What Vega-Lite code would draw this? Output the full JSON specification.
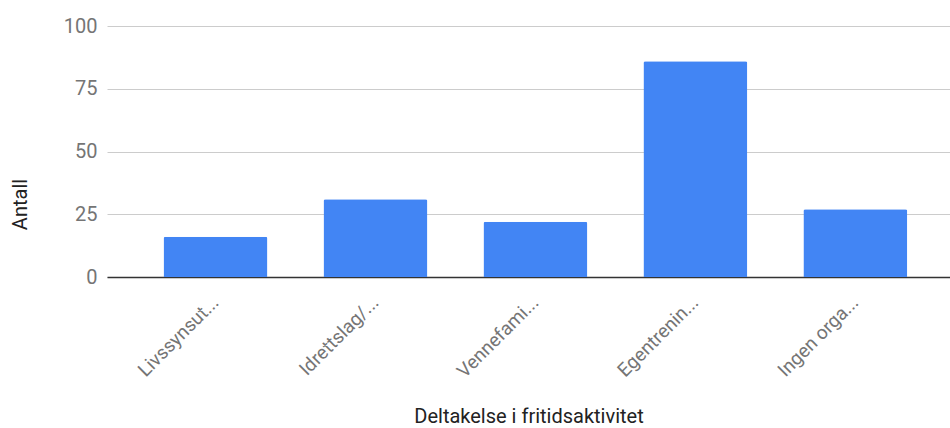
{
  "$schema": "https://vega.github.io/schema/vega-lite/v6.json",
  "width": 843,
  "height": 251,
  "autosize": {"type": "none"},
  "padding": {"left": 107, "top": 26, "right": 0, "bottom": 151},
  "background": "white",
  "config": {
    "view": {"stroke": null},
    "font": "Roboto",
    "axis": {"labelFont": "Roboto", "titleFont": "Roboto"}
  },
  "data": {
    "values": [
      {"aktivitet": "Livssynsut...", "antall": 16},
      {"aktivitet": "Idrettslag/...", "antall": 31},
      {"aktivitet": "Vennefami...", "antall": 22},
      {"aktivitet": "Egentrenin...", "antall": 86},
      {"aktivitet": "Ingen orga...", "antall": 27}
    ]
  },
  "mark": {"type": "bar", "color": "#4285F4", "cornerRadiusTopLeft": 2, "cornerRadiusTopRight": 2},
  "encoding": {
    "x": {
      "field": "aktivitet",
      "type": "nominal",
      "sort": null,
      "scale": {"paddingInner": 0.35, "paddingOuter": 0.31, "align": 0.57},
      "axis": {
        "title": "Deltakelse i fritidsaktivitet",
        "titleFontSize": 20,
        "titleFontWeight": "normal",
        "titleColor": "#222222",
        "titleBaseline": "middle",
        "titleY": 139,
        "labelAngle": -45,
        "labelAlign": "right",
        "labelBaseline": "middle",
        "labelFontSize": 19,
        "labelColor": "#757575",
        "labelPadding": 22,
        "labelDx": 14,
        "ticks": false,
        "domainColor": "#333333",
        "domainWidth": 1.5,
        "grid": false
      }
    },
    "y": {
      "field": "antall",
      "type": "quantitative",
      "scale": {"domain": [0, 100]},
      "axis": {
        "title": "Antall",
        "titleFontSize": 20,
        "titleFontWeight": "normal",
        "titleColor": "#222222",
        "titleAngle": -90,
        "titleAlign": "center",
        "titleBaseline": "middle",
        "titleX": -87,
        "titleY": 178,
        "values": [0, 25, 50, 75, 100],
        "labelFontSize": 20,
        "labelColor": "#757575",
        "labelPadding": 10,
        "ticks": false,
        "domain": false,
        "gridColor": "#cccccc",
        "gridWidth": 1
      }
    }
  }
}
